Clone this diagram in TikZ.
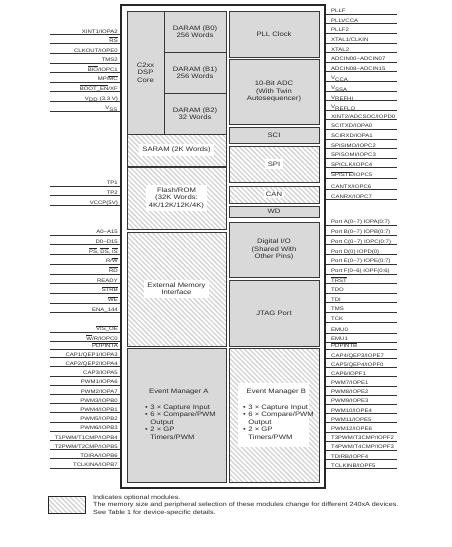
\documentclass[tikz,border=0pt]{standalone}
\usepackage{fontspec}
\setmainfont{Liberation Sans}[FakeStretch=1.2]
\usetikzlibrary{patterns.meta}
\definecolor{blkfill}{HTML}{D9D9D9}
\definecolor{hatchcol}{HTML}{D2D2D2}
\definecolor{edgecol}{HTML}{383838}
\definecolor{txtcol}{HTML}{2A2A2A}
\newcommand\ovl[1]{$\overline{\mbox{#1}}$}
\newcommand\modbox[7]{\node[#2, minimum width={#5-#3}, minimum height={#6-#4}] (#1) at ({(#3+#5)/2},{(#4+#6)/2}) {#7};}
\tikzset{
  outerbox/.style={draw=black!85, line width=1.4pt, inner sep=0},
  gblock/.style={draw=edgecol, line width=0.8pt, fill=blkfill, inner sep=0, align=center, text=txtcol, font=\fontsize{6.4}{7.4}\selectfont},
  hblock/.style={draw=edgecol, line width=0.8pt, inner sep=0, pattern={Lines[angle=-45,distance=3.4pt,line width=1.3pt]}, pattern color=hatchcol},
  hlabel/.style={fill=white, inner sep=3pt, align=center, text=txtcol, font=\fontsize{6.4}{7.4}\selectfont},
  pinline/.style={draw=black!80, line width=0.6pt},
  pinlbl/.style={inner sep=0, text=txtcol, font=\fontsize{5}{5.5}\selectfont},
  legtxt/.style={inner sep=0, anchor=base west, text=txtcol, font=\fontsize{6}{6.5}\selectfont},
}
\begin{document}
\begin{tikzpicture}[x=1pt,y=-1pt]
\useasboundingbox (0,0) rectangle (452,547);
% outer device box
\node[outerbox, minimum width=204, minimum height=483] (outer) at (223,246.5) {};
% modules
\modbox{core}{gblock}{127}{11}{164}{134}{C2xx\\DSP\\Core}
\modbox{b0}{gblock}{164}{11}{226}{52}{DARAM (B0)\\256 Words}
\modbox{b1}{gblock}{164}{52}{226}{93}{DARAM (B1)\\256 Words}
\modbox{b2}{gblock}{164}{93}{226}{134}{DARAM (B2)\\32 Words}
\modbox{saram}{hblock}{127}{134}{226}{166}{}
\node[hlabel] (saramt) at (saram) {SARAM (2K Words)};
\modbox{flash}{hblock}{127}{167}{226}{229}{}
\node[hlabel] (flasht) at (flash) {Flash/ROM\\(32K Words:\\4K/12K/12K/4K)};
\modbox{ext}{hblock}{127}{232}{226}{346}{}
\node[hlabel] (extt) at (ext) {External Memory\\Interface};
\modbox{eva}{gblock}{127}{348}{226}{482}{}
\modbox{pll}{gblock}{229}{11}{319}{57}{PLL Clock}
\modbox{adc}{gblock}{229}{59}{319}{124}{10-Bit ADC\\(With Twin\\Autosequencer)}
\modbox{sci}{gblock}{229}{127}{319}{143}{SCI}
\modbox{spi}{hblock}{229}{146}{319}{182}{}
\node[hlabel] (spit) at (spi) {SPI};
\modbox{can}{hblock}{229}{186}{319}{203}{}
\node[hlabel, inner sep=1.5pt] (cant) at (can) {CAN};
\modbox{wd}{gblock}{229}{206}{319}{217}{WD}
\modbox{dio}{gblock}{229}{222}{319}{277}{Digital I/O\\(Shared With\\Other Pins)}
\modbox{jtag}{gblock}{229}{280}{319}{346}{JTAG Port}
\modbox{evb}{hblock}{229}{348}{319}{482}{}
% event manager texts
\node[inner sep=0, anchor=north west, text=txtcol, font=\fontsize{6.4}{7.6}\selectfont] (evat) at (145,388) {%
\begin{tabular}{@{}l@{\hspace{2.5pt}}l@{}}
\multicolumn{2}{@{}l}{\hspace{4pt}Event Manager A}\\[8pt]
\textbullet & 3 × Capture Input\\
\textbullet & 6 × Compare/PWM\\
 & Output\\
\textbullet & 2 × GP\\
 & Timers/PWM
\end{tabular}};
\node[fill=white, inner sep=0, minimum width=71, minimum height=64] (evbbg) at (273.5,415) {};
\node[inner sep=0, anchor=north west, text=txtcol, font=\fontsize{6.4}{7.6}\selectfont] (evbt) at (243,388) {%
\begin{tabular}{@{}l@{\hspace{2.5pt}}l@{}}
\multicolumn{2}{@{}l}{\hspace{3.5pt}Event Manager B}\\[8pt]
\textbullet & 3 × Capture Input\\
\textbullet & 6 × Compare/PWM\\
 & Output\\
\textbullet & 2 × GP\\
 & Timers/PWM
\end{tabular}};
% left pins
\foreach \i/\y/\lab in {
 1/34.3/{XINT1/IOPA2}, 2/43.7/{\ovl{RS}}, 3/53.3/{CLKOUT/IOPE0}, 4/62.9/{TMS2},
 5/72.5/{\ovl{BIO}/IOPC1}, 6/82.1/{MP/\ovl{MC}}, 7/91.7/{\ovl{BOOT\_EN}/XF},
 8/101.3/{V\textsubscript{DD} (3.3 V)}, 9/110.9/{V\textsubscript{SS}},
 10/186/{TP1}, 11/195.7/{TP2}, 12/205.3/{VCCP(5V)},
 13/235/{A0−A15}, 14/244.7/{D0−D15}, 15/254.4/{\ovl{PS}, \ovl{DS}, \ovl{IS}},
 16/264.1/{R/\ovl{W}}, 17/273.8/{\ovl{RD}}, 18/283.5/{READY}, 19/293.2/{\ovl{STRB}},
 20/302.9/{\ovl{WE}}, 21/312.6/{ENA\_144}, 22/332/{\ovl{VIS\_OE}},
 23/341.5/{\ovl{W}/R/IOPC0}, 24/349/{\ovl{PDPINTA}},
 25/357.5/{CAP1/QEP1/IOPA3}, 26/366.7/{CAP2/QEP2/IOPA4}, 27/375.9/{CAP3/IOPA5},
 28/385.1/{PWM1/IOPA6}, 29/394.3/{PWM2/IOPA7}, 30/403.5/{PWM3/IOPB0},
 31/412.7/{PWM4/IOPB1}, 32/421.9/{PWM5/IOPB2}, 33/431.1/{PWM6/IOPB3},
 34/440.3/{T1PWM/T1CMP/IOPB4}, 35/449.5/{T2PWM/T2CMP/IOPB5},
 36/458.7/{TDIRA/IOPB6}, 37/467.9/{TCLKINA/IOPB7}} {
  \coordinate (lp\i) at (50,\y);
  \draw[pinline] (lp\i) -- (lp\i -| outer.west);
  \node[pinlbl, anchor=base east] (ll\i) at (118,\y-1.3) {\lab};
}
% right pins
\foreach \i/\y/\lab in {
 1/14/{PLLF}, 2/23.6/{PLLVCCA}, 3/33.2/{PLLF2}, 4/42.8/{XTAL1/CLKIN}, 5/52.4/{XTAL2},
 6/62/{ADCIN00−ADCIN07}, 7/71.6/{ADCIN08−ADCIN15}, 8/81.2/{V\textsubscript{CCA}},
 9/90.8/{V\textsubscript{SSA}}, 10/100.4/{V\textsubscript{REFHI}}, 11/110/{V\textsubscript{REFLO}},
 12/119.6/{XINT2/ADCSOC/IOPD0}, 13/129.2/{SCITXD/IOPA0}, 14/138.8/{SCIRXD/IOPA1},
 15/148.4/{SPISIMO/IOPC2}, 16/158/{SPISOMI/IOPC3}, 17/167.6/{SPICLK/IOPC4},
 18/178/{\ovl{SPISTE}/IOPC5}, 19/189.3/{CANTX/IOPC6}, 20/199.3/{CANRX/IOPC7},
 21/225/{Port A(0−7) IOPA(0:7)}, 22/234.8/{Port B(0−7) IOPB(0:7)},
 23/244.6/{Port C(0−7) IOPC(0:7)}, 24/254.4/{Port D(0) IOPD(0)},
 25/264.2/{Port E(0−7) IOPE(0:7)}, 26/274/{Port F(0−6) IOPF(0:6)},
 27/283.5/{\ovl{TRST}}, 28/293/{TDO}, 29/302.5/{TDI}, 30/312/{TMS}, 31/321.8/{TCK},
 32/332.8/{EMU0}, 33/342/{EMU1}, 34/349/{\ovl{PDPINTB}},
 35/358.3/{CAP4/QEP3/IOPE7}, 36/367.4/{CAP5/QEP4/IOPF0}, 37/376.6/{CAP6/IOPF1},
 38/385.8/{PWM7/IOPE1}, 39/395/{PWM8/IOPE2}, 40/404.2/{PWM9/IOPE3},
 41/413.4/{PWM10/IOPE4}, 42/422.6/{PWM11/IOPE5}, 43/431.8/{PWM12/IOPE6},
 44/441/{T3PWM/T3CMP/IOPF2}, 45/450.2/{T4PWM/T4CMP/IOPF3},
 46/459.4/{TDIRB/IOPF4}, 47/468.6/{TCLKINB/IOPF5}} {
  \coordinate (rp\i) at (397,\y);
  \draw[pinline] (rp\i -| outer.east) -- (rp\i);
  \node[pinlbl, anchor=base west] (rl\i) at (331,\y-1.3) {\lab};
}
% legend
\node[draw=black!85, line width=0.8pt, inner sep=0, minimum width=37, minimum height=17,
  pattern={Lines[angle=-45,distance=3.4pt,line width=1.3pt]}, pattern color=hatchcol] (leg) at (66.5,504.5) {};
\node[legtxt] (leg1) at (93,499.5) {Indicates optional modules.};
\node[legtxt] (leg2) at (93,506.8) {The memory size and peripheral selection of these modules change for different 240xA devices.};
\node[legtxt] (leg3) at (93,514) {See Table 1 for device-specific details.};
\end{tikzpicture}
\end{document}
